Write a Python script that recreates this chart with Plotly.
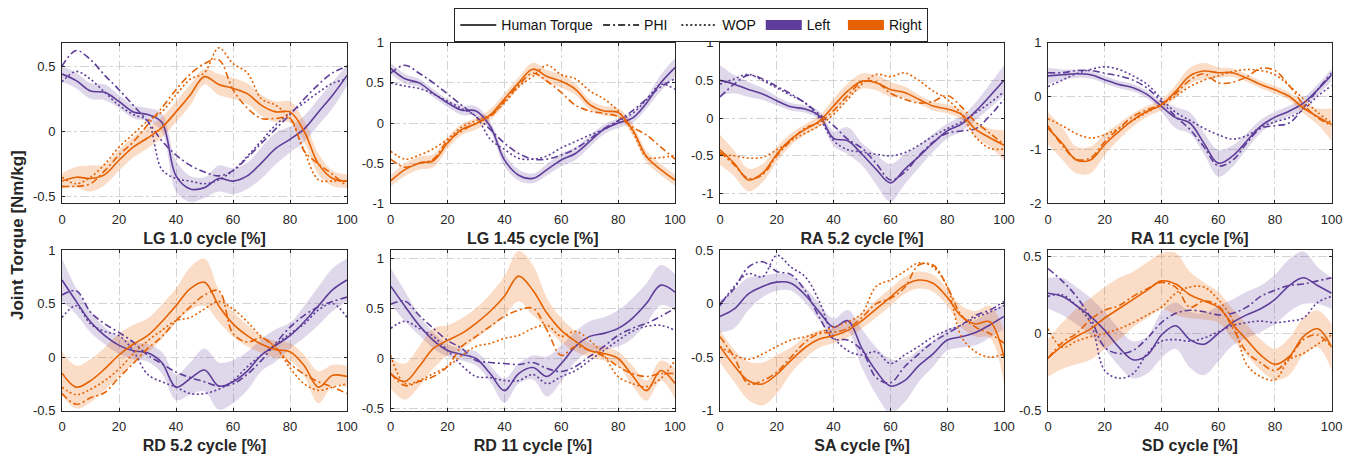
import plotly.graph_objects as go

# ---------------- data (x = gait cycle %, every 5 %) ----------------
CYCLE = list(range(0, 101, 5))

PANEL_TITLES = ["LG 1.0 cycle [%]", "LG 1.45 cycle [%]", "RA 5.2 cycle [%]", "RA 11 cycle [%]",
                "RD 5.2 cycle [%]", "RD 11 cycle [%]", "SA cycle [%]", "SD cycle [%]"]
X_TICKS = [0, 20, 40, 60, 80, 100]
LEGEND_NAMES = ["Human Torque", "PHI", "WOP", "Left", "Right"]

# LG 1.0
LG10_L_HUM = [0.44, 0.39, 0.31, 0.30, 0.23, 0.15, 0.13, 0.07, -0.34, -0.44, -0.43, -0.36, -0.38, -0.34, -0.24, -0.13, -0.06, 0.02, 0.15, 0.28, 0.43]
LG10_L_SD = [0.06, 0.06, 0.06, 0.06, 0.05, 0.05, 0.05, 0.07, 0.12, 0.10, 0.08, 0.10, 0.10, 0.10, 0.12, 0.12, 0.10, 0.10, 0.10, 0.10, 0.08]
LG10_L_PHI = [0.50, 0.62, 0.55, 0.43, 0.32, 0.20, 0.08, -0.07, -0.18, -0.26, -0.31, -0.34, -0.30, -0.20, -0.09, 0.02, 0.13, 0.25, 0.36, 0.45, 0.50]
LG10_L_WOP = [0.38, 0.46, 0.40, 0.30, 0.20, 0.13, 0.08, -0.29, -0.36, -0.38, -0.40, -0.37, -0.30, -0.19, -0.07, 0.05, 0.14, 0.22, 0.30, 0.37, 0.40]
LG10_R_HUM = [-0.38, -0.35, -0.36, -0.33, -0.22, -0.12, -0.05, 0.03, 0.15, 0.28, 0.42, 0.36, 0.33, 0.29, 0.20, 0.15, 0.15, 0.00, -0.25, -0.36, -0.38]
LG10_R_SD = [0.06, 0.08, 0.10, 0.08, 0.08, 0.08, 0.08, 0.08, 0.08, 0.08, 0.06, 0.08, 0.08, 0.08, 0.08, 0.08, 0.08, 0.08, 0.08, 0.06, 0.05]
LG10_R_PHI = [-0.42, -0.42, -0.40, -0.30, -0.18, -0.08, 0.05, 0.18, 0.32, 0.44, 0.52, 0.55, 0.32, 0.18, 0.10, 0.10, 0.10, -0.15, -0.25, -0.33, -0.42]
LG10_R_WOP = [-0.35, -0.40, -0.35, -0.25, -0.12, -0.02, 0.08, 0.15, 0.28, 0.40, 0.45, 0.64, 0.52, 0.45, 0.25, 0.20, 0.10, -0.15, -0.37, -0.38, -0.38]

# LG 1.45
LG145_L_HUM = [0.68, 0.55, 0.50, 0.37, 0.25, 0.16, 0.15, -0.04, -0.46, -0.65, -0.69, -0.58, -0.46, -0.38, -0.23, -0.08, 0.00, 0.06, 0.25, 0.50, 0.69]
LG145_L_SD = [0.07, 0.06, 0.05, 0.05, 0.05, 0.06, 0.06, 0.06, 0.08, 0.07, 0.06, 0.07, 0.08, 0.08, 0.07, 0.06, 0.06, 0.06, 0.07, 0.10, 0.12]
LG145_L_PHI = [0.62, 0.72, 0.62, 0.50, 0.36, 0.22, 0.08, -0.08, -0.25, -0.38, -0.45, -0.45, -0.40, -0.32, -0.20, -0.07, 0.03, 0.15, 0.30, 0.45, 0.55]
LG145_L_WOP = [0.50, 0.46, 0.43, 0.36, 0.27, 0.18, 0.08, -0.20, -0.33, -0.44, -0.45, -0.41, -0.31, -0.23, -0.15, -0.08, 0.02, 0.12, 0.29, 0.48, 0.42]
LG145_R_HUM = [-0.72, -0.58, -0.50, -0.47, -0.25, -0.08, -0.01, 0.10, 0.30, 0.50, 0.67, 0.58, 0.52, 0.42, 0.23, 0.15, 0.13, -0.08, -0.42, -0.58, -0.71]
LG145_R_SD = [0.07, 0.08, 0.08, 0.08, 0.07, 0.07, 0.07, 0.07, 0.07, 0.07, 0.08, 0.08, 0.08, 0.07, 0.06, 0.06, 0.06, 0.07, 0.07, 0.07, 0.07]
LG145_R_PHI = [-0.45, -0.55, -0.50, -0.45, -0.22, -0.10, 0.00, 0.08, 0.27, 0.47, 0.62, 0.52, 0.38, 0.22, 0.15, 0.12, 0.08, -0.05, -0.15, -0.30, -0.45]
LG145_R_WOP = [-0.35, -0.45, -0.40, -0.32, -0.20, -0.05, 0.03, 0.10, 0.25, 0.45, 0.58, 0.72, 0.60, 0.55, 0.40, 0.30, 0.15, -0.10, -0.42, -0.43, -0.40]

# RA 5.2
RA52_L_HUM = [0.50, 0.45, 0.38, 0.32, 0.23, 0.15, 0.12, 0.03, -0.27, -0.30, -0.48, -0.68, -0.86, -0.68, -0.51, -0.33, -0.17, -0.08, 0.09, 0.29, 0.50]
RA52_L_SD = [0.20, 0.12, 0.10, 0.08, 0.06, 0.05, 0.05, 0.06, 0.10, 0.18, 0.15, 0.20, 0.25, 0.20, 0.15, 0.12, 0.10, 0.10, 0.12, 0.16, 0.20]
RA52_L_PHI = [0.28, 0.45, 0.57, 0.52, 0.42, 0.32, 0.20, 0.05, -0.10, -0.28, -0.40, -0.60, -0.82, -0.72, -0.50, -0.32, -0.20, -0.17, -0.14, 0.03, 0.25]
RA52_L_WOP = [0.45, 0.52, 0.58, 0.50, 0.40, 0.30, 0.20, 0.00, -0.30, -0.42, -0.45, -0.48, -0.50, -0.46, -0.36, -0.24, -0.14, -0.05, 0.07, 0.20, 0.35]
RA52_R_HUM = [-0.42, -0.60, -0.82, -0.73, -0.48, -0.28, -0.15, -0.04, 0.16, 0.36, 0.49, 0.47, 0.38, 0.34, 0.25, 0.16, 0.12, 0.05, -0.15, -0.26, -0.36]
RA52_R_SD = [0.20, 0.17, 0.15, 0.12, 0.10, 0.08, 0.07, 0.07, 0.10, 0.10, 0.10, 0.10, 0.10, 0.08, 0.06, 0.06, 0.06, 0.07, 0.10, 0.12, 0.20]
RA52_R_PHI = [-0.45, -0.62, -0.80, -0.75, -0.50, -0.30, -0.13, -0.06, 0.10, 0.30, 0.48, 0.48, 0.33, 0.25, 0.20, 0.22, 0.30, 0.15, -0.05, -0.20, -0.35]
RA52_R_WOP = [-0.48, -0.50, -0.53, -0.52, -0.42, -0.30, -0.20, -0.10, 0.05, 0.25, 0.45, 0.58, 0.55, 0.60, 0.50, 0.36, 0.25, 0.05, -0.25, -0.40, -0.41]

# RA 11
RA11_L_HUM = [0.38, 0.40, 0.42, 0.40, 0.31, 0.22, 0.16, 0.03, -0.19, -0.40, -0.50, -0.88, -1.25, -1.12, -0.84, -0.56, -0.39, -0.28, -0.13, 0.12, 0.40]
RA11_L_SD = [0.15, 0.10, 0.08, 0.07, 0.07, 0.07, 0.07, 0.07, 0.10, 0.20, 0.20, 0.20, 0.25, 0.20, 0.15, 0.12, 0.10, 0.10, 0.10, 0.10, 0.12]
RA11_L_PHI = [0.44, 0.44, 0.48, 0.48, 0.43, 0.38, 0.30, 0.15, -0.10, -0.38, -0.62, -0.95, -1.30, -1.20, -0.88, -0.60, -0.55, -0.50, -0.22, 0.12, 0.44]
RA11_L_WOP = [0.18, 0.30, 0.42, 0.50, 0.55, 0.50, 0.38, 0.22, -0.05, -0.30, -0.45, -0.60, -0.72, -0.80, -0.74, -0.58, -0.48, -0.40, -0.25, 0.00, 0.20]
RA11_R_HUM = [-0.60, -0.88, -1.19, -1.19, -0.90, -0.66, -0.44, -0.28, -0.16, 0.09, 0.38, 0.47, 0.44, 0.44, 0.34, 0.22, 0.12, 0.00, -0.22, -0.38, -0.53]
RA11_R_SD = [0.30, 0.30, 0.25, 0.25, 0.20, 0.15, 0.12, 0.10, 0.10, 0.12, 0.15, 0.15, 0.10, 0.08, 0.07, 0.07, 0.07, 0.07, 0.10, 0.15, 0.30]
RA11_R_PHI = [-0.55, -0.92, -1.18, -1.15, -0.85, -0.60, -0.38, -0.25, -0.15, 0.05, 0.30, 0.42, 0.25, 0.26, 0.36, 0.52, 0.48, 0.20, -0.15, -0.40, -0.55]
RA11_R_WOP = [-0.42, -0.55, -0.70, -0.78, -0.72, -0.60, -0.45, -0.30, -0.15, 0.00, 0.18, 0.30, 0.38, 0.46, 0.50, 0.48, 0.40, 0.20, -0.05, -0.30, -0.50]

# RD 5.2
RD52_L_HUM = [0.72, 0.52, 0.33, 0.20, 0.11, 0.06, 0.04, -0.05, -0.28, -0.20, -0.12, -0.27, -0.23, -0.13, 0.02, 0.11, 0.20, 0.33, 0.48, 0.63, 0.72]
RD52_L_SD = [0.20, 0.12, 0.10, 0.08, 0.08, 0.08, 0.08, 0.10, 0.12, 0.15, 0.20, 0.22, 0.20, 0.18, 0.15, 0.15, 0.12, 0.15, 0.18, 0.20, 0.20]
RD52_L_PHI = [0.58, 0.62, 0.42, 0.31, 0.23, 0.14, 0.02, -0.06, -0.14, -0.19, -0.23, -0.27, -0.25, -0.16, -0.03, 0.13, 0.28, 0.39, 0.47, 0.52, 0.56]
RD52_L_WOP = [0.37, 0.48, 0.31, 0.24, 0.20, 0.06, -0.16, -0.23, -0.28, -0.34, -0.34, -0.30, -0.22, -0.09, 0.02, 0.12, 0.22, 0.31, 0.44, 0.50, 0.37]
RD52_R_HUM = [-0.15, -0.28, -0.22, -0.11, 0.02, 0.12, 0.20, 0.33, 0.48, 0.64, 0.70, 0.48, 0.31, 0.20, 0.12, 0.07, 0.05, -0.08, -0.28, -0.17, -0.18]
RD52_R_SD = [0.20, 0.20, 0.20, 0.20, 0.20, 0.18, 0.16, 0.16, 0.16, 0.20, 0.22, 0.15, 0.12, 0.10, 0.08, 0.08, 0.08, 0.10, 0.15, 0.10, 0.10]
RD52_R_PHI = [-0.34, -0.44, -0.38, -0.33, -0.19, -0.06, 0.08, 0.19, 0.34, 0.47, 0.58, 0.62, 0.22, 0.14, 0.18, 0.09, -0.06, -0.16, -0.23, -0.28, -0.34]
RD52_R_WOP = [-0.28, -0.35, -0.30, -0.22, -0.11, 0.03, 0.15, 0.25, 0.34, 0.37, 0.45, 0.52, 0.45, 0.33, 0.19, 0.09, -0.10, -0.25, -0.31, -0.28, -0.25]

# RD 11
RD11_L_HUM = [0.72, 0.52, 0.33, 0.18, 0.08, 0.04, 0.00, -0.15, -0.32, -0.15, -0.09, -0.18, -0.05, 0.12, 0.22, 0.25, 0.30, 0.40, 0.55, 0.73, 0.66]
RD11_L_SD = [0.18, 0.15, 0.10, 0.08, 0.06, 0.06, 0.07, 0.08, 0.12, 0.10, 0.12, 0.20, 0.18, 0.15, 0.15, 0.16, 0.18, 0.20, 0.20, 0.20, 0.18]
RD11_L_PHI = [0.54, 0.57, 0.43, 0.30, 0.18, 0.10, -0.02, -0.04, -0.05, -0.06, -0.04, -0.10, -0.13, -0.08, 0.02, 0.12, 0.23, 0.30, 0.35, 0.42, 0.50]
RD11_L_WOP = [0.30, 0.37, 0.30, 0.22, 0.08, -0.07, -0.18, -0.19, -0.22, -0.22, -0.16, -0.25, -0.18, -0.12, -0.02, 0.08, 0.18, 0.27, 0.32, 0.33, 0.28]
RD11_R_HUM = [-0.15, -0.23, -0.08, 0.10, 0.18, 0.25, 0.35, 0.47, 0.62, 0.82, 0.68, 0.45, 0.28, 0.17, 0.08, 0.05, 0.00, -0.17, -0.32, -0.12, -0.25]
RD11_R_SD = [0.15, 0.18, 0.20, 0.20, 0.15, 0.15, 0.15, 0.17, 0.20, 0.25, 0.25, 0.15, 0.12, 0.10, 0.07, 0.07, 0.07, 0.10, 0.10, 0.10, 0.15]
RD11_R_PHI = [-0.15, -0.27, -0.23, -0.18, -0.08, 0.12, 0.22, 0.32, 0.42, 0.48, 0.50, 0.28, 0.03, 0.12, 0.08, 0.02, -0.08, -0.15, -0.18, -0.15, -0.15]
RD11_R_WOP = [0.03, -0.25, -0.22, -0.15, -0.08, 0.03, 0.12, 0.15, 0.20, 0.23, 0.30, 0.33, 0.22, 0.27, 0.18, 0.03, -0.18, -0.25, -0.28, -0.20, -0.02]

# SA
SA_L_HUM = [-0.12, -0.05, 0.09, 0.16, 0.20, 0.19, 0.08, -0.08, -0.22, -0.16, -0.42, -0.63, -0.77, -0.72, -0.58, -0.47, -0.34, -0.31, -0.27, -0.20, -0.12]
SA_L_SD = [0.15, 0.18, 0.15, 0.10, 0.08, 0.07, 0.07, 0.08, 0.08, 0.10, 0.18, 0.22, 0.25, 0.20, 0.15, 0.12, 0.10, 0.10, 0.12, 0.12, 0.12]
SA_L_PHI = [0.00, 0.14, 0.34, 0.39, 0.30, 0.27, 0.12, -0.13, -0.33, -0.34, -0.44, -0.69, -0.74, -0.59, -0.47, -0.36, -0.28, -0.20, -0.11, -0.06, 0.02]
SA_L_WOP = [-0.02, 0.16, 0.28, 0.25, 0.45, 0.34, 0.25, 0.02, -0.31, -0.44, -0.48, -0.45, -0.56, -0.48, -0.40, -0.31, -0.25, -0.20, -0.13, -0.08, -0.02]
SA_R_HUM = [-0.40, -0.58, -0.72, -0.75, -0.66, -0.53, -0.41, -0.33, -0.30, -0.25, -0.16, -0.05, 0.06, 0.17, 0.22, 0.19, 0.06, -0.12, -0.19, -0.17, -0.50]
SA_R_SD = [0.15, 0.15, 0.18, 0.20, 0.18, 0.12, 0.10, 0.08, 0.07, 0.07, 0.07, 0.08, 0.08, 0.08, 0.08, 0.08, 0.08, 0.10, 0.12, 0.15, 0.25]
SA_R_PHI = [-0.31, -0.50, -0.75, -0.72, -0.64, -0.50, -0.36, -0.28, -0.27, -0.23, -0.13, 0.00, 0.05, 0.15, 0.36, 0.36, 0.16, -0.11, -0.22, -0.28, -0.37]
SA_R_WOP = [-0.40, -0.48, -0.52, -0.47, -0.40, -0.34, -0.31, -0.27, -0.22, -0.17, -0.09, 0.16, 0.22, 0.30, 0.38, 0.34, 0.16, -0.31, -0.45, -0.50, -0.47]

# SD
SD_L_HUM = [0.26, 0.24, 0.18, 0.11, 0.02, -0.09, -0.17, -0.14, -0.01, 0.05, -0.04, -0.07, 0.00, 0.07, 0.12, 0.16, 0.22, 0.31, 0.36, 0.31, 0.26]
SD_L_SD = [0.10, 0.12, 0.12, 0.12, 0.12, 0.12, 0.12, 0.12, 0.15, 0.15, 0.18, 0.20, 0.18, 0.15, 0.15, 0.15, 0.16, 0.17, 0.17, 0.12, 0.10]
SD_L_PHI = [0.42, 0.34, 0.24, 0.10, -0.09, -0.13, -0.11, -0.03, 0.07, 0.13, 0.15, 0.14, 0.12, 0.13, 0.17, 0.24, 0.28, 0.31, 0.32, 0.34, 0.36]
SD_L_WOP = [0.24, 0.25, 0.18, 0.07, -0.24, -0.29, -0.26, -0.13, -0.05, -0.04, -0.05, -0.03, 0.01, 0.05, 0.07, 0.08, 0.07, 0.08, 0.10, 0.20, 0.24]
SD_R_HUM = [-0.16, -0.08, -0.02, 0.03, 0.10, 0.16, 0.22, 0.28, 0.34, 0.32, 0.25, 0.21, 0.17, 0.06, -0.04, -0.14, -0.20, -0.15, -0.02, 0.03, -0.09]
SD_R_SD = [0.12, 0.15, 0.18, 0.20, 0.20, 0.20, 0.18, 0.18, 0.18, 0.20, 0.15, 0.12, 0.10, 0.10, 0.10, 0.10, 0.10, 0.12, 0.12, 0.12, 0.15]
SD_R_PHI = [-0.16, -0.06, 0.00, 0.09, 0.15, 0.18, 0.24, 0.29, 0.33, 0.30, 0.17, 0.21, 0.18, 0.04, -0.12, -0.19, -0.24, -0.16, -0.04, -0.01, -0.09]
SD_R_WOP = [0.03, -0.09, -0.05, -0.02, 0.00, 0.03, 0.07, 0.12, 0.17, 0.26, 0.30, 0.30, 0.22, 0.09, -0.20, -0.28, -0.30, -0.17, -0.13, -0.07, -0.01]

PANELS = [
    (LG10_L_HUM, LG10_L_SD, LG10_L_PHI, LG10_L_WOP, LG10_R_HUM, LG10_R_SD, LG10_R_PHI, LG10_R_WOP),
    (LG145_L_HUM, LG145_L_SD, LG145_L_PHI, LG145_L_WOP, LG145_R_HUM, LG145_R_SD, LG145_R_PHI, LG145_R_WOP),
    (RA52_L_HUM, RA52_L_SD, RA52_L_PHI, RA52_L_WOP, RA52_R_HUM, RA52_R_SD, RA52_R_PHI, RA52_R_WOP),
    (RA11_L_HUM, RA11_L_SD, RA11_L_PHI, RA11_L_WOP, RA11_R_HUM, RA11_R_SD, RA11_R_PHI, RA11_R_WOP),
    (RD52_L_HUM, RD52_L_SD, RD52_L_PHI, RD52_L_WOP, RD52_R_HUM, RD52_R_SD, RD52_R_PHI, RD52_R_WOP),
    (RD11_L_HUM, RD11_L_SD, RD11_L_PHI, RD11_L_WOP, RD11_R_HUM, RD11_R_SD, RD11_R_PHI, RD11_R_WOP),
    (SA_L_HUM, SA_L_SD, SA_L_PHI, SA_L_WOP, SA_R_HUM, SA_R_SD, SA_R_PHI, SA_R_WOP),
    (SD_L_HUM, SD_L_SD, SD_L_PHI, SD_L_WOP, SD_R_HUM, SD_R_SD, SD_R_PHI, SD_R_WOP),
]

Y_RANGES = [(-0.55, 0.68), (-1, 1), (-1.13, 1), (-2, 1), (-0.5, 1), (-0.52, 1.08), (-1, 0.5), (-0.5, 0.54)]
Y_TICKS = [[-0.5, 0, 0.5], [-1, -0.5, 0, 0.5, 1], [-1, -0.5, 0, 0.5, 1], [-2, -1, 0, 1],
           [-0.5, 0, 0.5, 1], [-0.5, 0, 0.5, 1], [-1, -0.5, 0, 0.5], [-0.5, 0, 0.5]]

# ---------------- styling ----------------
PAGE_PAD = 8            # default body margin of the html page
W, H = 1357 - PAGE_PAD, 457 - PAGE_PAD
PURPLE = "#5E3C99"
ORANGE = "#E66101"
PURPLE_BAND = "rgba(94,60,153,0.20)"
ORANGE_BAND = "rgba(230,97,1,0.22)"
FONT = "Liberation Sans, Arial, Helvetica, sans-serif"
AX = "#262626"
DASHDOT = "7px,3px,2px,3px"
DOT = "2px,2.5px"
COL_X = [(62, 347), (390.7, 675), (720, 1004), (1048, 1331.7)]
ROW_Y = [(42.7, 203.3), (250, 410.7)]
NB = "\u00a0"
LEGEND_PAD = ["", NB, "", NB * 2, ""]


def px_x(v):
    return (v - PAGE_PAD) / W


def px_y(v):
    return 1 - (v - PAGE_PAD) / H


fig = go.Figure()

for i, series in enumerate(PANELS):
    l_hum, l_sd, l_phi, l_wop, r_hum, r_sd, r_phi, r_wop = series
    xa = "x" if i == 0 else "x%d" % (i + 1)
    ya = "y" if i == 0 else "y%d" % (i + 1)
    for hum, sd, band in ((l_hum, l_sd, PURPLE_BAND), (r_hum, r_sd, ORANGE_BAND)):
        lower = [m - s for m, s in zip(hum, sd)]
        upper = [m + s for m, s in zip(hum, sd)]
        fig.add_trace(go.Scatter(x=CYCLE, y=lower, mode="lines", line=dict(width=0, shape="spline"),
                                 xaxis=xa, yaxis=ya, showlegend=False, hoverinfo="skip"))
        fig.add_trace(go.Scatter(x=CYCLE, y=upper, mode="lines", line=dict(width=0, shape="spline"),
                                 fill="tonexty", fillcolor=band,
                                 xaxis=xa, yaxis=ya, showlegend=False, hoverinfo="skip"))
    for vals, color, dash in ((l_phi, PURPLE, DASHDOT), (l_wop, PURPLE, DOT), (l_hum, PURPLE, "solid"),
                              (r_phi, ORANGE, DASHDOT), (r_wop, ORANGE, DOT), (r_hum, ORANGE, "solid")):
        fig.add_trace(go.Scatter(x=CYCLE, y=vals, mode="lines",
                                 line=dict(color=color, width=1.6, dash=dash, shape="spline"),
                                 xaxis=xa, yaxis=ya, showlegend=False))

# legend entries
LEG_STYLE = [("black", "solid", 1.5), ("black", DASHDOT, 1.5), ("black", DOT, 1.5),
             (PURPLE, "solid", 12), (ORANGE, "solid", 12)]
for name, pad, (color, dash, width) in zip(LEGEND_NAMES, LEGEND_PAD, LEG_STYLE):
    fig.add_trace(go.Scatter(x=[None], y=[None], mode="lines", name=name + pad,
                             line=dict(color=color, dash=dash, width=width)))

layout = dict(
    width=W, height=H,
    margin=dict(l=0, r=0, t=0, b=0),
    paper_bgcolor="white", plot_bgcolor="white",
    font=dict(family=FONT, size=13, color=AX),
    showlegend=True,
    legend=dict(orientation="h", x=px_x(454.3), y=px_y(8.3), xanchor="left", yanchor="top",
                bordercolor=AX, borderwidth=1, bgcolor="white", itemwidth=36,
                font=dict(family=FONT, size=14, color="#111111"), traceorder="normal"),
    annotations=[dict(text="<b>Joint Torque [Nm/kg]</b>", x=px_x(17.5), y=px_y(235.5),
                      xref="paper", yref="paper", xanchor="center", yanchor="middle",
                      showarrow=False, textangle=-90, font=dict(family=FONT, size=17, color=AX))],
)

for i in range(8):
    r, c = divmod(i, 4)
    x0, x1 = COL_X[c]
    y0, y1 = ROW_Y[r]
    sfx = "" if i == 0 else str(i + 1)
    layout["xaxis" + sfx] = dict(
        domain=[px_x(x0), px_x(x1)], range=[0, 100], anchor="y" + sfx,
        tickvals=X_TICKS, ticktext=[str(t) for t in X_TICKS],
        showgrid=True, gridcolor="#d4d4d4", griddash="dashdot", gridwidth=1,
        zeroline=False, showline=True, mirror="ticks", linecolor=AX, linewidth=1,
        ticks="inside", ticklen=3, tickcolor=AX, ticklabelstandoff=4,
        tickfont=dict(family=FONT, size=13, color=AX),
        title=dict(text="<b>%s</b>" % PANEL_TITLES[i], standoff=6,
                   font=dict(family=FONT, size=16, color=AX)),
        automargin=False,
    )
    layout["yaxis" + sfx] = dict(
        domain=[px_y(y1), px_y(y0)], range=list(Y_RANGES[i]), anchor="x" + sfx,
        tickvals=Y_TICKS[i], ticktext=["%g" % t for t in Y_TICKS[i]],
        showgrid=True, gridcolor="#d4d4d4", griddash="dashdot", gridwidth=1,
        zeroline=False, showline=True, mirror="ticks", linecolor=AX, linewidth=1,
        ticks="inside", ticklen=3, tickcolor=AX, ticklabelstandoff=3,
        tickfont=dict(family=FONT, size=13, color=AX),
        automargin=False,
    )

fig.update_layout(**layout)
fig.write_html("out.html")
